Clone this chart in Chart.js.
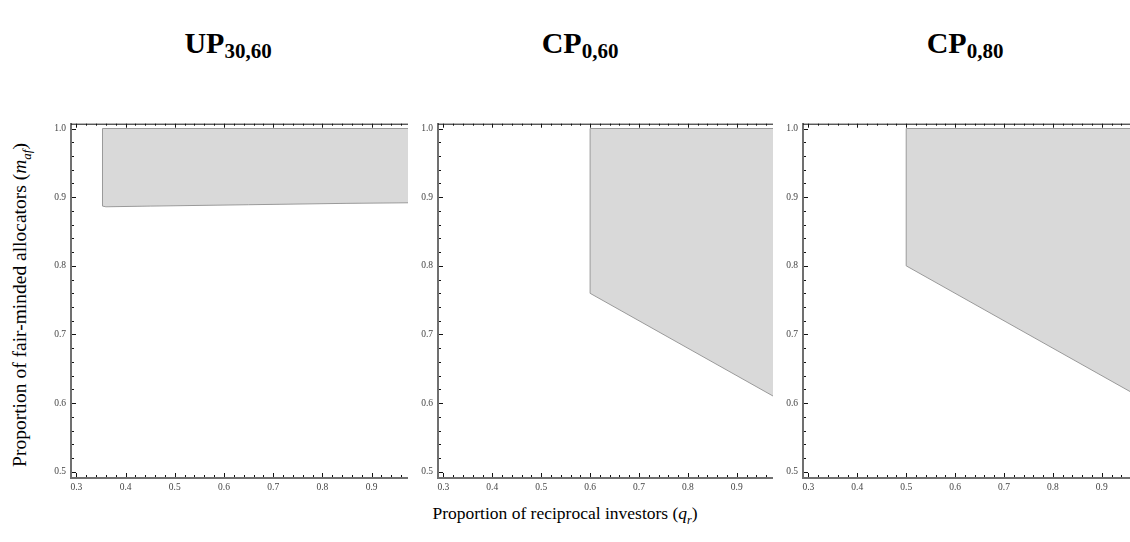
<!DOCTYPE html>
<html>
<head>
<meta charset="utf-8">
<script src="https://cdn.jsdelivr.net/npm/chart.js@4/dist/chart.umd.min.js"></script>
<style>
  body { margin: 0; background: #fff; width: 1130px; height: 542px; overflow: hidden; position: relative; font-family: "Liberation Serif", "Times New Roman", serif; }
  canvas { position: absolute; }
  .ttl { position: absolute; top: 26px; font-weight: bold; font-size: 30px; color: #000; transform: translateX(-50%); white-space: nowrap; }
  .ttl sub { font-size: 21px; vertical-align: -5px; }
  #xlab { position: absolute; left: 565px; top: 503px; transform: translateX(-50%); font-size: 17.5px; white-space: nowrap; }
  #ylab { position: absolute; left: 22px; top: 305px; transform: translate(-50%, -50%) rotate(-90deg); font-size: 19.5px; white-space: nowrap; }
</style>
</head>
<body>
<div class="ttl" style="left:228px">UP<sub>30,60</sub></div>
<div class="ttl" style="left:580px">CP<sub>0,60</sub></div>
<div class="ttl" style="left:965px">CP<sub>0,80</sub></div>
<div id="xlab">Proportion of reciprocal investors (<i>q<sub style="font-size:12px">r</sub></i>)</div>
<div id="ylab">Proportion of fair-minded allocators (<i>m<sub style="font-size:13px">af</sub></i>)</div>

<canvas id="c1" width="377" height="390" style="left:31px;top:113px"></canvas>
<canvas id="c2" width="375" height="390" style="left:398px;top:113px"></canvas>
<canvas id="c3" width="375" height="390" style="left:763px;top:113px"></canvas>

<script>
// axis limits and tick labels
const qRange = [0.289, 0.974];
const mRange = [0.491, 1.007];
const qTicks = [0.3, 0.4, 0.5, 0.6, 0.7, 0.8, 0.9];
const mTicks = [0.5, 0.6, 0.7, 0.8, 0.9, 1.0];

// shaded regions (q_r, m_af) outlines
const up3060Q = [0.353, 1.0, 1.0, 0.85, 0.65, 0.45, 0.36, 0.353];
const up3060M = [1.0, 1.0, 0.892, 0.891, 0.889, 0.887, 0.886, 0.887];

const cp060Q = [0.6, 1.0, 1.0, 0.6];
const cp060M = [1.0, 1.0, 0.6, 0.76];

const cp080Q = [0.5, 1.0, 1.0, 0.5];
const cp080M = [1.0, 1.0, 0.6, 0.8];

const fillColor = "#d9d9d9";
const edgeColor = "#9a9a9a";

// inward ticks + top frame line, like the original frame
const frameTicks = {
  id: "frameTicks",
  afterDraw(chart) {
    const { ctx, chartArea: a, scales } = chart;
    const x = scales.x, y = scales.y;
    ctx.save();
    ctx.strokeStyle = "#111";
    ctx.lineWidth = 1;
    ctx.beginPath();
    ctx.moveTo(a.left, a.top + 0.5);
    ctx.lineTo(a.right, a.top + 0.5);
    ctx.stroke();
    ctx.beginPath();
    for (let i = 15; i * 0.02 <= qRange[1] + 1e-9; i++) {
      const v = i * 0.02;
      const px = Math.round(x.getPixelForValue(v)) + 0.5;
      const len = i % 5 === 0 ? 4 : 2;
      ctx.moveTo(px, a.bottom - 1);
      ctx.lineTo(px, a.bottom - 1 - len);
      ctx.moveTo(px, a.top);
      ctx.lineTo(px, a.top + len);
    }
    for (let i = 25; i <= 50; i++) {
      const v = i * 0.02;
      const py = Math.round(y.getPixelForValue(v)) + 0.5;
      const len = i % 5 === 0 ? 4 : 2;
      ctx.moveTo(a.left + 1, py);
      ctx.lineTo(a.left + 1 + len, py);
    }
    ctx.stroke();
    ctx.restore();
  }
};

function makePanel(id, qs, ms) {
  const pts = qs.map((q, i) => ({ x: q, y: ms[i] }));
  pts.push(pts[0]);
  return new Chart(document.getElementById(id), {
    type: "scatter",
    data: {
      datasets: [{
        data: pts,
        showLine: true,
        tension: 0,
        pointRadius: 0,
        borderColor: edgeColor,
        borderWidth: 1,
        backgroundColor: fillColor,
        fill: "shape"
      }]
    },
    options: {
      responsive: false,
      animation: false,
      layout: { padding: 0 },
      plugins: { legend: { display: false }, tooltip: { enabled: false } },
      scales: {
        x: {
          type: "linear",
          min: qRange[0],
          max: qRange[1],
          afterBuildTicks: s => { s.ticks = qTicks.map(v => ({ value: v })); },
          afterFit: s => { s.height = 25; },
          grid: { display: false, drawTicks: false },
          border: { display: true, color: "#707070", width: 2 },
          ticks: {
            padding: 4,
            color: "#444",
            maxRotation: 0,
            font: { family: "Liberation Serif", size: 9.5 },
            callback: v => v.toFixed(1)
          }
        },
        y: {
          type: "linear",
          min: mRange[0],
          max: mRange[1],
          afterBuildTicks: s => { s.ticks = mTicks.map(v => ({ value: v })); },
          afterFit: s => { s.width = 40; },
          grid: { display: false, drawTicks: false },
          border: { display: true, color: "#707070", width: 2 },
          ticks: {
            padding: 5,
            color: "#444",
            font: { family: "Liberation Serif", size: 9.5 },
            callback: v => v.toFixed(1)
          }
        }
      }
    },
    plugins: [frameTicks]
  });
}

makePanel("c1", up3060Q, up3060M);
makePanel("c2", cp060Q, cp060M);
makePanel("c3", cp080Q, cp080M);
</script>
</body>
</html>
